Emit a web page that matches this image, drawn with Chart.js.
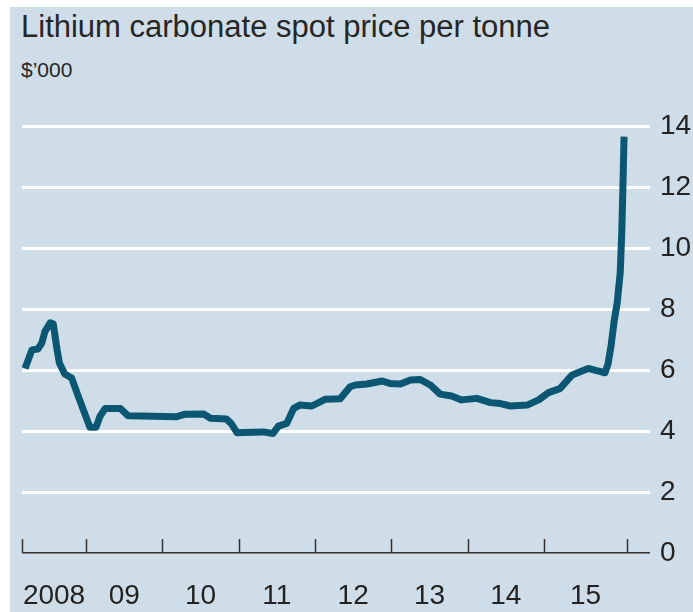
<!DOCTYPE html>
<html lang="en">
  <head>
    <meta charset="UTF-8" />
    <script src="https://cdn.jsdelivr.net/npm/chart.js@4.4.0/dist/chart.umd.min.js"></script>
    <title>Lithium carbonate spot price</title>
    <style>
      body { margin: 0; background: #fff; font-family: "Liberation Sans", Arial, sans-serif; }
      #panel { position: absolute; left: 10px; top: 7px; width: 683px; height: 605px; background: #cedde7; }
      #title { position: absolute; left: 21px; top: 11px; font-size: 31px; line-height: 31px; color: #262626; white-space: nowrap; }
      #unit { position: absolute; left: 21px; top: 59px; font-size: 21px; line-height: 21px; color: #262626; }
      #myChart { position: absolute; left: 10px; top: 7px; }
    </style>
  </head>
  <body>
    <div id="panel"></div>
    <div id="title">Lithium carbonate spot price per tonne</div>
    <div id="unit">$’000</div>
    <canvas id="myChart" width="683" height="605"></canvas>

    <script>
      // price in $'000 per tonne, x in fractional years
      const years = [2008.20, 2008.29, 2008.37, 2008.42, 2008.46, 2008.53, 2008.57, 2008.62, 2008.65, 2008.72, 2008.81, 2008.90, 2008.99,
        2009.05, 2009.13, 2009.18, 2009.25, 2009.45, 2009.55,
        2010.19, 2010.30, 2010.54, 2010.63, 2010.84, 2010.90, 2010.98,
        2011.06, 2011.32, 2011.45, 2011.52, 2011.63, 2011.72, 2011.80, 2011.96,
        2012.13, 2012.33, 2012.46, 2012.53, 2012.68, 2012.88, 2012.98,
        2013.12, 2013.25, 2013.38, 2013.51, 2013.64, 2013.79, 2013.92,
        2014.12, 2014.30, 2014.43, 2014.56, 2014.78, 2014.93,
        2015.06, 2015.21, 2015.37, 2015.58, 2015.69, 2015.80, 2015.84, 2015.88, 2015.92, 2015.96,
        2016.00, 2016.02, 2016.035, 2016.05];
      const prices = [6.05, 6.66, 6.69, 6.89, 7.26, 7.55, 7.51, 6.66, 6.23, 5.87, 5.74, 5.12, 4.52,
        4.12, 4.12, 4.47, 4.74, 4.74, 4.50,
        4.47, 4.55, 4.56, 4.42, 4.39, 4.25, 3.94,
        3.95, 3.97, 3.92, 4.16, 4.25, 4.74, 4.85, 4.82,
        5.04, 5.06, 5.45, 5.51, 5.54, 5.64, 5.56,
        5.54, 5.67, 5.69, 5.51, 5.21, 5.15, 5.02,
        5.07, 4.93, 4.90, 4.82, 4.85, 5.02,
        5.26, 5.39, 5.84, 6.05, 5.98, 5.91, 6.2, 6.8, 7.6, 8.2,
        9.2, 10.5, 12.0, 13.65];

      // year boundaries (tick marks) and the labels that sit between them
      const yearTicks = [2008.16, 2009, 2010, 2011, 2012, 2013, 2014, 2015, 2016.09];
      const yearLabels = ["2008", "09", "10", "11", "12", "13", "14", "15"];
      const yTicks = [0, 2, 4, 6, 8, 10, 12, 14];

      const labelPos = yearLabels.map((l, i) => (yearTicks[i] + yearTicks[i + 1]) / 2);

      Chart.defaults.font.family = "'Liberation Sans', Arial, sans-serif";
      Chart.defaults.color = "#222";

      // small upward tick marks on the x axis line
      const yearMarks = {
        id: "yearMarks",
        afterDraw(chart) {
          const ctx = chart.ctx;
          const x = chart.scales.x;
          const y0 = chart.scales.y.getPixelForValue(0);
          ctx.save();
          ctx.strokeStyle = "#333";
          ctx.lineWidth = 1.5;
          yearTicks.forEach(v => {
            const px = Math.round(x.getPixelForValue(v)) + 0.5;
            ctx.beginPath();
            ctx.moveTo(px, y0);
            ctx.lineTo(px, y0 - 14);
            ctx.stroke();
          });
          ctx.restore();
        }
      };

      const ctx = document.getElementById("myChart").getContext("2d");
      const chart = new Chart(ctx, {
        type: "line",
        data: {
          datasets: [
            {
              data: years.map((yr, i) => ({ x: yr, y: prices[i] })),
              borderColor: "#0b5672",
              borderWidth: 7,
              borderJoinStyle: "round",
              pointRadius: 0,
              tension: 0,
              clip: false
            }
          ]
        },
        options: {
          responsive: false,
          animation: false,
          layout: { padding: { left: 12, top: 119, right: 0, bottom: 0 } },
          plugins: { legend: { display: false }, tooltip: { enabled: false } },
          scales: {
            x: {
              type: "linear",
              min: 2008.16,
              max: 2016.39,
              afterBuildTicks: s => { s.ticks = labelPos.map(v => ({ value: v })); },
              afterFit: s => { s.height = 59; s.paddingLeft = 0; s.paddingRight = 0; },
              ticks: {
                autoSkip: false,
                maxRotation: 0,
                padding: 26,
                font: { size: 28 },
                callback: (v, i) => yearLabels[i]
              },
              grid: { display: false, drawTicks: false },
              border: { display: false }
            },
            y: {
              position: "right",
              min: 0,
              max: 14,
              afterBuildTicks: s => { s.ticks = yTicks.map(v => ({ value: v })); },
              afterFit: s => { s.width = 43; s.paddingTop = 0; s.paddingBottom = 0; },
              ticks: { padding: 10, font: { size: 28 } },
              grid: {
                drawTicks: false,
                color: c => (c.tick && c.tick.value === 0 ? "#333" : "#fff"),
                lineWidth: c => (c.tick && c.tick.value === 0 ? 1.5 : 3)
              },
              border: { display: false }
            }
          }
        },
        plugins: [yearMarks]
      });
    </script>
  </body>
</html>
